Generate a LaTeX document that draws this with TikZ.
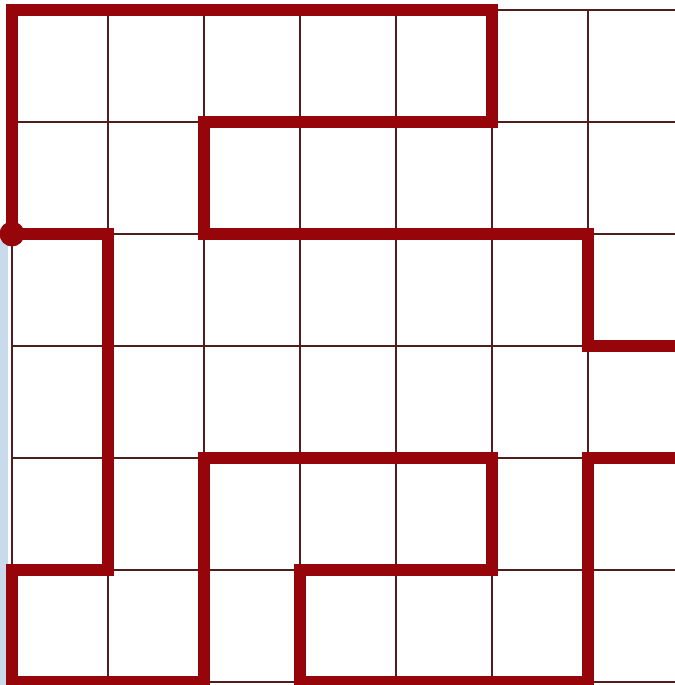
\documentclass[tikz,border=0pt]{standalone}
\usepackage{tikz}
\usetikzlibrary{calc}
\definecolor{pathred}{RGB}{150, 5, 10}
\definecolor{gridline}{RGB}{80, 30, 30}
\definecolor{edgeblue}{RGB}{200, 218, 236}
\begin{document}
\begin{tikzpicture}[
			x=1.92cm, y=-2.24cm,
			cellgrid/.style={draw=gridline, line width=1.1pt},
			route/.style={draw=pathred, line width=6.5pt, line join=miter},
			junction/.style={circle, fill=pathred, inner sep=0pt, minimum size=0.5cm}]
			\useasboundingbox (-0.125,-0.089) rectangle (6.906,6.027);
			\clip (-0.125,-0.089) rectangle (6.906,6.027);
			\fill[white] (-0.125,-0.089) rectangle (6.906,6.027);
			\fill[edgeblue] (-0.125,2.05) rectangle (-0.04,6.027);
			% thin cells
			\foreach \i in {0,...,7} \draw[cellgrid] (\i,0) -- (\i,6);
			\foreach \j in {0,...,6} \draw[cellgrid] (0,\j) -- (7,\j);
			% the route through the grid
			\coordinate (start) at (0,2);
			\draw[route] (6.95,4) -- (6,4) -- (6,6) -- (3,6) -- (3,5) -- (5,5) -- (5,4)
				-- (2,4) -- (2,6) -- (0,6) -- (0,5) -- (1,5) -- (1,2) -- (start)
				-- (0,0) -- (5,0) -- (5,1) -- (2,1) -- (2,2) -- (6,2) -- (6,3) -- (6.95,3);
			\node[junction] (dot) at (start) {};
		\end{tikzpicture}
\end{document}
